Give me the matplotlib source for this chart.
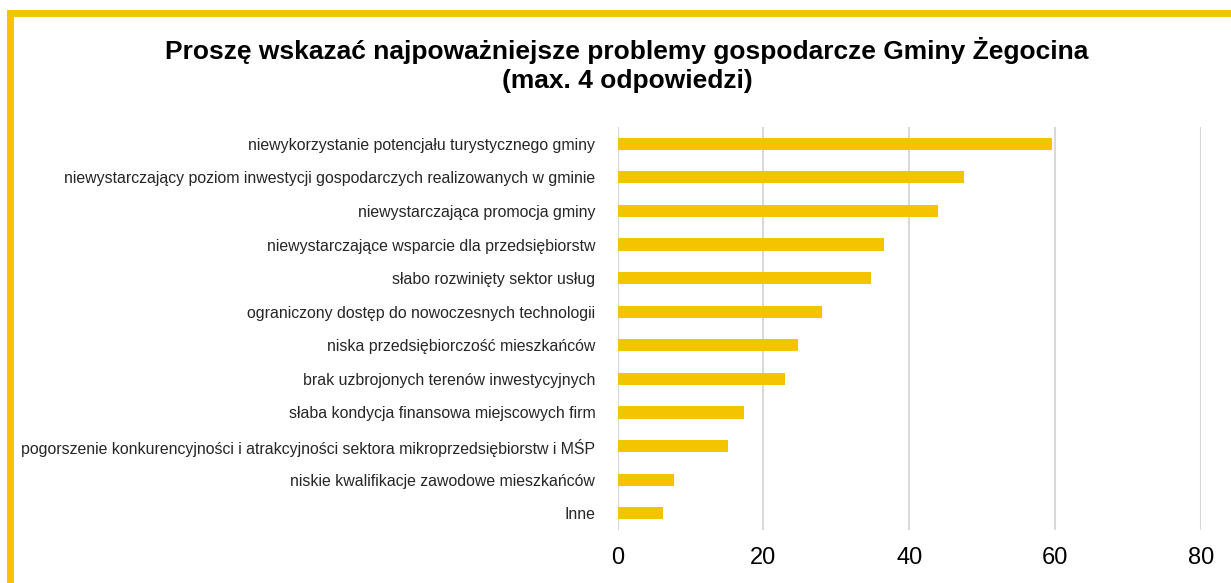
import numpy as np
import matplotlib.pyplot as plt
from matplotlib.patches import Rectangle

plt.rcParams['font.family'] = ['Liberation Sans', 'DejaVu Sans']

categories = [
    'niewykorzystanie potencjału turystycznego gminy',
    'niewystarczający poziom inwestycji gospodarczych realizowanych w gminie',
    'niewystarczająca promocja gminy',
    'niewystarczające wsparcie dla przedsiębiorstw',
    'słabo rozwinięty sektor usług',
    'ograniczony dostęp do nowoczesnych technologii',
    'niska przedsiębiorczość mieszkańców',
    'brak uzbrojonych terenów inwestycyjnych',
    'słaba kondycja finansowa miejscowych firm',
    'pogorszenie konkurencyjności i atrakcyjności sektora mikroprzedsiębiorstw i MŚP',
    'niskie kwalifikacje zawodowe mieszkańców',
    'Inne',
]
values = [59.6, 47.5, 43.9, 36.5, 34.7, 28.0, 24.8, 23.0, 17.3, 15.2, 7.8, 6.3]
xticks = [0, 20, 40, 60, 80]

yellow = '#F5C400'

fig = plt.figure(figsize=(12.31, 5.83), dpi=100)
ax = fig.add_axes([617.5 / 1231, 53 / 583, (1201 - 617.5) / 1231, 403 / 583])

y = np.arange(len(categories))
ax.barh(y, values, height=0.36, color=yellow, zorder=3)
ax.set_ylim(len(categories) - 0.5, -0.5)
ax.set_xlim(0, 80)
ax.set_xticks(xticks)
ax.set_yticks(y)
ax.set_yticklabels(categories, fontsize=11.4, color='#262626')
ax.tick_params(axis='x', labelsize=17, length=0, pad=12)
ax.tick_params(axis='y', length=0, pad=16)
ax.grid(axis='x', color='#d9d9d9', linewidth=1.5, zorder=0)
for s in ax.spines.values():
    s.set_visible(False)

fig.text(627 / 1231, 1 - 65 / 583,
         'Proszę wskazać najpoważniejsze problemy gospodarcze Gminy Żegocina\n(max. 4 odpowiedzi)',
         ha='center', va='center', fontsize=19, fontweight='bold', linespacing=1.3)

# yellow frame around the chart
fig.patches.append(Rectangle((9.5, -20), 1260, 583 - 12.5 + 20, transform=None,
                             fill=False, edgecolor=yellow, linewidth=5))

fig.savefig('out.png', dpi=100)
